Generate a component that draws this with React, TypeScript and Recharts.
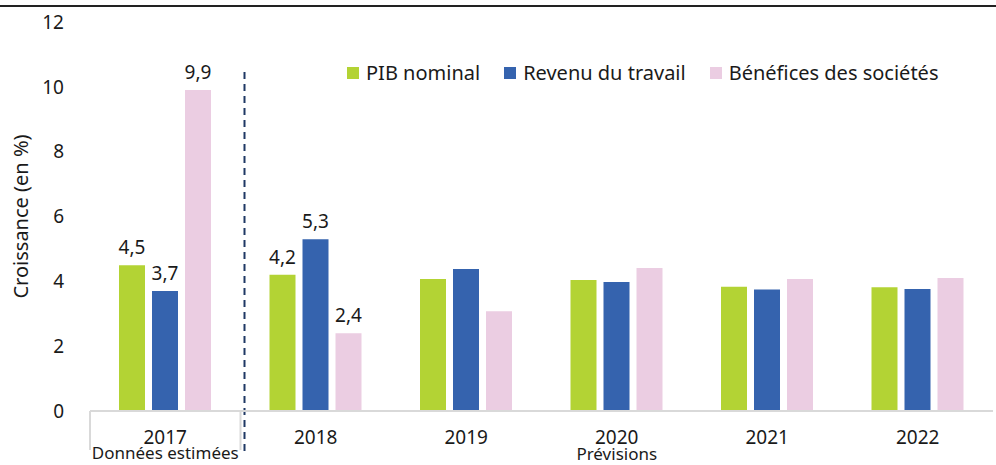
import React from "react";
import {
  BarChart,
  Bar,
  XAxis,
  YAxis,
  Legend,
  LabelList,
  ReferenceLine,
  ReferenceArea,
} from "recharts";

const years = ["2017", "2018", "2019", "2020", "2021", "2022"];
const pibNominal = [4.5, 4.2, 4.07, 4.04, 3.83, 3.82];
const revenuTravail = [3.7, 5.3, 4.38, 3.98, 3.75, 3.76];
const beneficesSocietes = [9.9, 2.4, 3.08, 4.41, 4.07, 4.1];
// years whose values are printed above the bars
const labeledYears = ["2017", "2018"];
const yTicks = [0, 2, 4, 6, 8, 10, 12];
const groups = [
  { label: "Données estimées", from: "2017", to: "2017", dy: 48 },
  { label: "Prévisions", from: "2018", to: "2022", dy: 49 },
];

const series = [
  { key: "pib", name: "PIB nominal", color: "#b3d334", values: pibNominal },
  { key: "revenu", name: "Revenu du travail", color: "#3563ae", values: revenuTravail },
  { key: "benefices", name: "Bénéfices des sociétés", color: "#ebcde2", values: beneficesSocietes },
];

const data = years.map((year, i) => {
  const row: any = { year };
  series.forEach((s) => {
    row[s.key] = s.values[i];
    row[s.key + "Label"] = labeledYears.includes(year) ? s.values[i] : null;
  });
  return row;
});

const FONT = "'Noto Sans', 'Open Sans', sans-serif";
const TEXT = "#1a1a1a";

const fmt = (v: number) => v.toFixed(1).replace(".", ",");

const ValueLabel = (props: any) => {
  const { x, y, width, value } = props;
  if (value === null || value === undefined) return null;
  return (
    <text x={x + width / 2} y={y - 11} textAnchor="middle" fontSize={19} fill={TEXT} fontFamily={FONT}>
      {fmt(value)}
    </text>
  );
};

const YearTick = ({ x, y, payload }: any) => (
  <text x={x} y={y + 25} textAnchor="middle" fontSize={19} fill={TEXT} fontFamily={FONT}>
    {payload.value}
  </text>
);

const CustomLegend = () => (
  <div style={{ display: "flex", alignItems: "center", fontFamily: FONT, fontSize: 20, color: TEXT, whiteSpace: "nowrap" }}>
    {series.map((s) => (
      <div key={s.key} style={{ display: "flex", alignItems: "center", marginRight: 24 }}>
        <span style={{ width: 12, height: 12, background: s.color, display: "inline-block", marginRight: 7 }} />
        <span>{s.name}</span>
      </div>
    ))}
  </div>
);

const GroupShape = (label: string, dy: number) => (props: any) => {
  const { x, y, width, height } = props;
  const bottom = y + height;
  return (
    <g>
      <line x1={x} y1={bottom} x2={x} y2={bottom + 39} stroke="#d9d9d9" strokeWidth={2} />
      <text x={x + width / 2} y={bottom + dy} textAnchor="middle" fontSize={17} fill={TEXT} fontFamily={FONT}>
        {label}
      </text>
    </g>
  );
};

const DividerShape = (props: any) => {
  const top = Math.min(props.y1, props.y2);
  const bottom = Math.max(props.y1, props.y2);
  return (
    <line
      x1={props.x1 + 4}
      x2={props.x2 + 4}
      y1={top + 50}
      y2={bottom + 41}
      stroke="#1f3864"
      strokeWidth={2}
      strokeDasharray="7 5"
    />
  );
};

export default function App() {
  return (
    <div style={{ position: "absolute", left: 0, top: 0, width: 996, height: 465, background: "#fff" }}>
      <div style={{ position: "absolute", left: 0, top: 5, width: 996, height: 2, background: "#222" }} />
      <BarChart
        width={996}
        height={465}
        data={data}
        margin={{ top: 22, right: 3, left: 0, bottom: 0 }}
        barSize={26}
        barGap={7}
      >
        <XAxis
          dataKey="year"
          height={54}
          tick={<YearTick />}
          tickLine={false}
          axisLine={{ stroke: "#d9d9d9", strokeWidth: 2 }}
          interval={0}
        />
        <YAxis
          width={90}
          domain={[0, 12]}
          ticks={yTicks}
          axisLine={false}
          tickLine={false}
          tickMargin={20}
          tick={{ fontSize: 19, fill: TEXT, fontFamily: FONT }}
          label={(p: any) => {
            const vb = p.viewBox || {};
            const cy = vb.y + vb.height / 2;
            return (
              <text
                x={20}
                y={cy}
                transform={`rotate(-90, 20, ${cy})`}
                textAnchor="middle"
                dominantBaseline="central"
                fontSize={20}
                fill={TEXT}
                fontFamily={FONT}
              >
                Croissance (en %)
              </text>
            );
          }}
        />
        <Legend
          layout="horizontal"
          verticalAlign="middle"
          align="center"
          content={<CustomLegend />}
          wrapperStyle={{ top: 59, left: 347, width: "auto", height: "auto" }}
        />
        {series.map((s) => (
          <Bar key={s.key} dataKey={s.key} name={s.name} fill={s.color} isAnimationActive={false}>
            <LabelList dataKey={s.key + "Label"} content={<ValueLabel />} />
          </Bar>
        ))}
        {groups.map((g) => (
          <ReferenceArea key={g.label} x1={g.from} x2={g.to} shape={GroupShape(g.label, g.dy)} />
        ))}
        <ReferenceLine x="2018" position="start" shape={DividerShape} />
      </BarChart>
    </div>
  );
}
